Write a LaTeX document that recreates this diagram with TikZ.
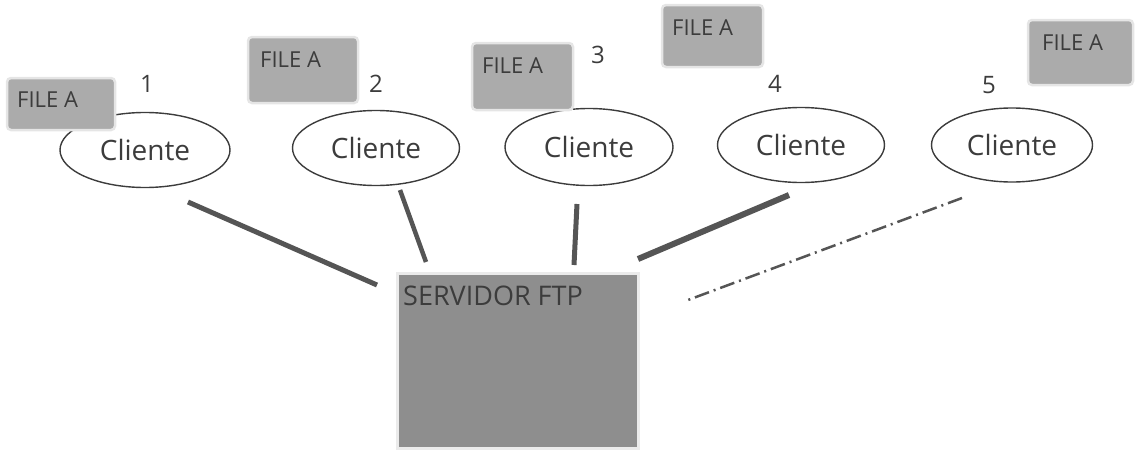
\documentclass[tikz,border=0pt]{standalone}
\usepackage{fontspec}
\setmainfont{Open Sans}
\usetikzlibrary{shapes.geometric}
\definecolor{txtgray}{HTML}{3C3C3C}
\definecolor{linegray}{HTML}{555555}
\definecolor{boxgray}{HTML}{ABABAB}
\definecolor{srvgray}{HTML}{8E8E8E}
\begin{document}
\begin{tikzpicture}[x=1pt,y=-1pt,
  client/.style={ellipse, draw=txtgray, line width=1.4pt, inner sep=0pt,
    text=txtgray, font=\fontsize{28}{30}\selectfont},
  filebox/.style={rectangle, rounded corners=4pt, fill=boxgray, draw=black!10,
    line width=2.5pt, inner sep=0pt},
  filetext/.style={anchor=base west, inner sep=0pt, text=txtgray,
    font=\fontsize{22}{24}\selectfont},
  numtext/.style={anchor=base, inner sep=0pt, text=txtgray,
    font=\fontsize{24}{26}\selectfont},
  srvbox/.style={rectangle, fill=srvgray, draw=black!8, line width=3pt, inner sep=0pt},
  link/.style={draw=linegray, line width=5pt},
  dlink/.style={draw=linegray, line width=2.5pt, dash pattern=on 15pt off 5pt on 2pt off 5pt}
]
\useasboundingbox (0,0) rectangle (1136,458);
% server
\node[srvbox, minimum width=241pt, minimum height=175pt] (srv) at (517.5,360.5) {};
\node[anchor=base west, inner sep=0pt, text=txtgray, font=\fontsize{27}{29}\selectfont] (srvt) at (403,305) {SERVIDOR FTP};
% clients
\node[client, minimum width=170pt, minimum height=75pt] (c1) at (145,150) {Cliente};
\node[client, minimum width=167pt, minimum height=75pt] (c2) at (376,148) {Cliente};
\node[client, minimum width=168pt, minimum height=77pt] (c3) at (589,147) {Cliente};
\node[client, minimum width=167pt, minimum height=75pt] (c4) at (801,145) {Cliente};
\node[client, minimum width=161pt, minimum height=74pt] (c5) at (1012,145) {Cliente};
% file boxes
\node[filebox, minimum width=108pt, minimum height=52pt] (f1) at (61,104) {};
\node[filetext] (f1t) at (17,107) {FILE A};
\node[filebox, minimum width=110pt, minimum height=66pt] (f2) at (303,70) {};
\node[filetext] (f2t) at (260,67) {FILE A};
\node[filebox, minimum width=101pt, minimum height=67pt] (f3) at (522.5,76.5) {};
\node[filetext] (f3t) at (482,73) {FILE A};
\node[filebox, minimum width=101pt, minimum height=62pt] (f4) at (712.5,36) {};
\node[filetext] (f4t) at (672,35) {FILE A};
\node[filebox, minimum width=105pt, minimum height=65pt] (f5) at (1080.5,52.5) {};
\node[filetext] (f5t) at (1042,50) {FILE A};
% numbers
\node[numtext] (n1) at (147,92) {1};
\node[numtext] (n2) at (376,92) {2};
\node[numtext] (n3) at (598,63) {3};
\node[numtext] (n4) at (775,92) {4};
\node[numtext] (n5) at (989,93) {5};
% connector end points
\coordinate (l1a) at (188,202); \coordinate (l1b) at (377,285);
\coordinate (l2a) at (400,190); \coordinate (l2b) at (426,262);
\coordinate (l3a) at (577,204); \coordinate (l3b) at (574,265);
\coordinate (l4a) at (789,195); \coordinate (l4b) at (638,259);
\coordinate (l5a) at (962,198); \coordinate (l5b) at (688,300);
\draw[link] (l1a) -- (l1b);
\draw[link, line width=4.5pt] (l2a) -- (l2b);
\draw[link] (l3a) -- (l3b);
\draw[link, line width=6pt] (l4a) -- (l4b);
\draw[dlink] (l5a) -- (l5b);
\end{tikzpicture}
\end{document}
